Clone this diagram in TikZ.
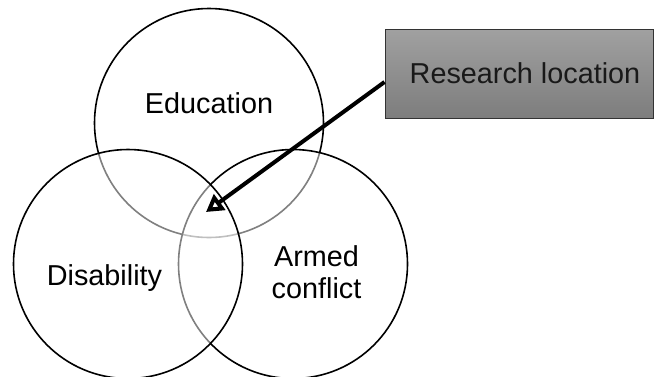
\documentclass[tikz,border=0pt]{standalone}
\usepackage{fontspec}
\setmainfont{Liberation Sans}
\usetikzlibrary{arrows.meta}
\tikzset{
  setc/.style={draw=black, line width=1.6pt, fill=white, fill opacity=0.5, draw opacity=1},
  lbl/.style={inner sep=0pt, font=\fontsize{28.8}{32}\selectfont, text=black},
  locbox/.style={draw=black!80, line width=1pt, top color=black!37, bottom color=black!51,
    minimum width=268pt, minimum height=89pt, inner sep=0pt, font=\fontsize{28.8}{32}\selectfont, text=black!90},
  pointer/.style={line width=4pt, -{Triangle[open, length=17pt, width=19pt]}}
}
\begin{document}
\begin{tikzpicture}[x=1pt, y=-1pt]
\useasboundingbox (0,0) rectangle (655,376);
\fill[white] (0,0) rectangle (655,376);
% circles: Education first, then Armed conflict, then Disability on top
\node[setc, circle, minimum size=229pt, inner sep=0pt] (edu) at (209,123) {};
\node[setc, circle, minimum size=229pt, inner sep=0pt] (arm) at (293,264) {};
\node[setc, circle, minimum size=229pt, inner sep=0pt] (dis) at (128,264) {};
% labels
\node[lbl, anchor=base] (edut) at (209,113) {Education};
\node[lbl, anchor=base] (dist) at (104.5,285) {Disability};
\node[lbl, anchor=north, align=center] (armt) at (316.5,245) {Armed\\conflict};
% research location box
\node[locbox] (box) at (519,73.5) {\hspace*{12pt}Research location};
\coordinate (tip) at (206,212);
\draw[pointer] ([yshift=-8.5pt]box.west) -- (tip);
\end{tikzpicture}
\end{document}
